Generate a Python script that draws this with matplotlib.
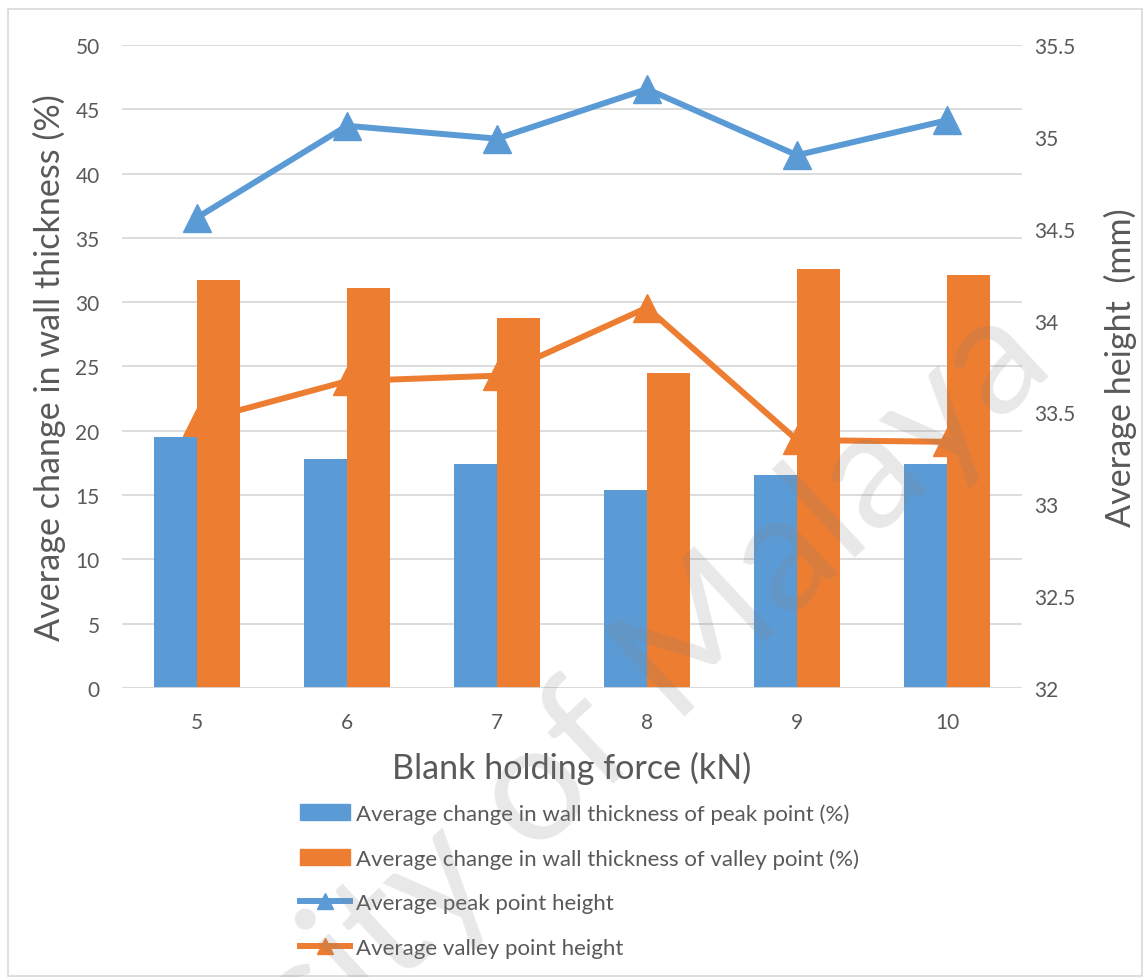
import numpy as np
import matplotlib.pyplot as plt
from matplotlib.lines import Line2D
from matplotlib.patches import Patch, Rectangle

plt.rcParams['font.family'] = ['Lato', 'DejaVu Sans']

# blank holding force (kN)
force = [5, 6, 7, 8, 9, 10]
# average change in wall thickness (%)
peak_thick = [19.5, 17.8, 17.4, 15.4, 16.6, 17.4]
valley_thick = [31.75, 31.1, 28.8, 24.5, 32.6, 32.1]
# average point height (mm)
peak_height = [34.56, 35.06, 34.99, 35.26, 34.90, 35.09]
valley_height = [33.45, 33.67, 33.70, 34.07, 33.35, 33.34]

BLUE = '#5B9BD5'
ORANGE = '#ED7D31'
TEXT = '#595959'
GRID = '#D9D9D9'

fig = plt.figure(figsize=(11.43, 9.78), dpi=100)
fig.patches.append(Rectangle((8 / 1143, 1 / 978), 1134 / 1143, 967 / 978,
                             transform=fig.transFigure, fill=False,
                             edgecolor=GRID, linewidth=1.2))

ax = fig.add_axes([0.1067, 0.2955, 0.7874, 0.6575])
x = np.arange(len(force))

# primary axis: ticks and gridlines only
ax.set_xlim(-0.5, len(force) - 0.5)
ax.set_ylim(0, 50)
ax.set_yticks(np.arange(0, 51, 5))
ax.set_xticks(x)
ax.set_xticklabels([str(f) for f in force])
ax.grid(axis='y', color=GRID, linewidth=1.3)
ax.set_axisbelow(True)
for s in ax.spines.values():
    s.set_visible(False)
ax.tick_params(axis='both', length=0, labelsize=15, labelcolor=TEXT)
ax.tick_params(axis='y', pad=16)
ax.tick_params(axis='x', pad=17)
ax.set_ylabel('Average change in wall thickness (%)', fontsize=24.6, color=TEXT)
ax.yaxis.set_label_coords(-0.062, 0.5)
ax.set_xlabel('Blank holding force (kN)', fontsize=24.6, color=TEXT)
ax.xaxis.set_label_coords(0.5, -0.098)

# secondary axis: heights
ax2 = ax.twinx()
ax2.set_ylim(32, 35.5)
ax2.set_yticks(np.arange(32, 35.51, 0.5))
ax2.set_yticklabels(['32', '32.5', '33', '33.5', '34', '34.5', '35', '35.5'])
for s in ax2.spines.values():
    s.set_visible(False)
ax2.tick_params(axis='y', length=0, labelsize=15, labelcolor=TEXT, pad=9)
ax2.plot(x, peak_height, color=BLUE, linewidth=4.3, marker='^',
         markersize=20, zorder=3)
ax2.plot(x, valley_height, color=ORANGE, linewidth=4.3, marker='^',
         markersize=20, zorder=3)
ax2.set_ylabel('Average height  (mm)', fontsize=24.6, color=TEXT)
ax2.yaxis.set_label_coords(1.091, 0.5)

# bars sit on top of the lines
ax3 = ax.twinx()
ax3.set_ylim(0, 50)
ax3.axis('off')
w = 0.287
ax3.bar(x - w / 2, peak_thick, width=w, color=BLUE)
ax3.bar(x + w / 2, valley_thick, width=w, color=ORANGE)
ax3.axhline(0, color=GRID, linewidth=1.3)

handles = [
    Patch(color=BLUE),
    Patch(color=ORANGE),
    Line2D([], [], color=BLUE, linewidth=4.3, marker='^', markersize=12),
    Line2D([], [], color=ORANGE, linewidth=4.3, marker='^', markersize=12),
]
labels = [
    'Average change in wall thickness of peak point (%)',
    'Average change in wall thickness of valley point (%)',
    'Average peak point height',
    'Average valley point height',
]
leg = fig.legend(handles, labels, loc='upper left',
                 bbox_to_anchor=(300 / 1143, 1 - 804 / 978),
                 frameon=False, fontsize=16, handlelength=2.25,
                 handletextpad=0.25, labelspacing=1.1, borderaxespad=0,
                 borderpad=0)
for t in leg.get_texts():
    t.set_color(TEXT)

fig.text(0.4165, 0.134, 'University of Malaya', fontsize=119,
         color='#808080', alpha=0.18, rotation=43,
         rotation_mode='anchor', ha='center', va='center', zorder=10)

fig.savefig('out.png', dpi=100, facecolor='white')
